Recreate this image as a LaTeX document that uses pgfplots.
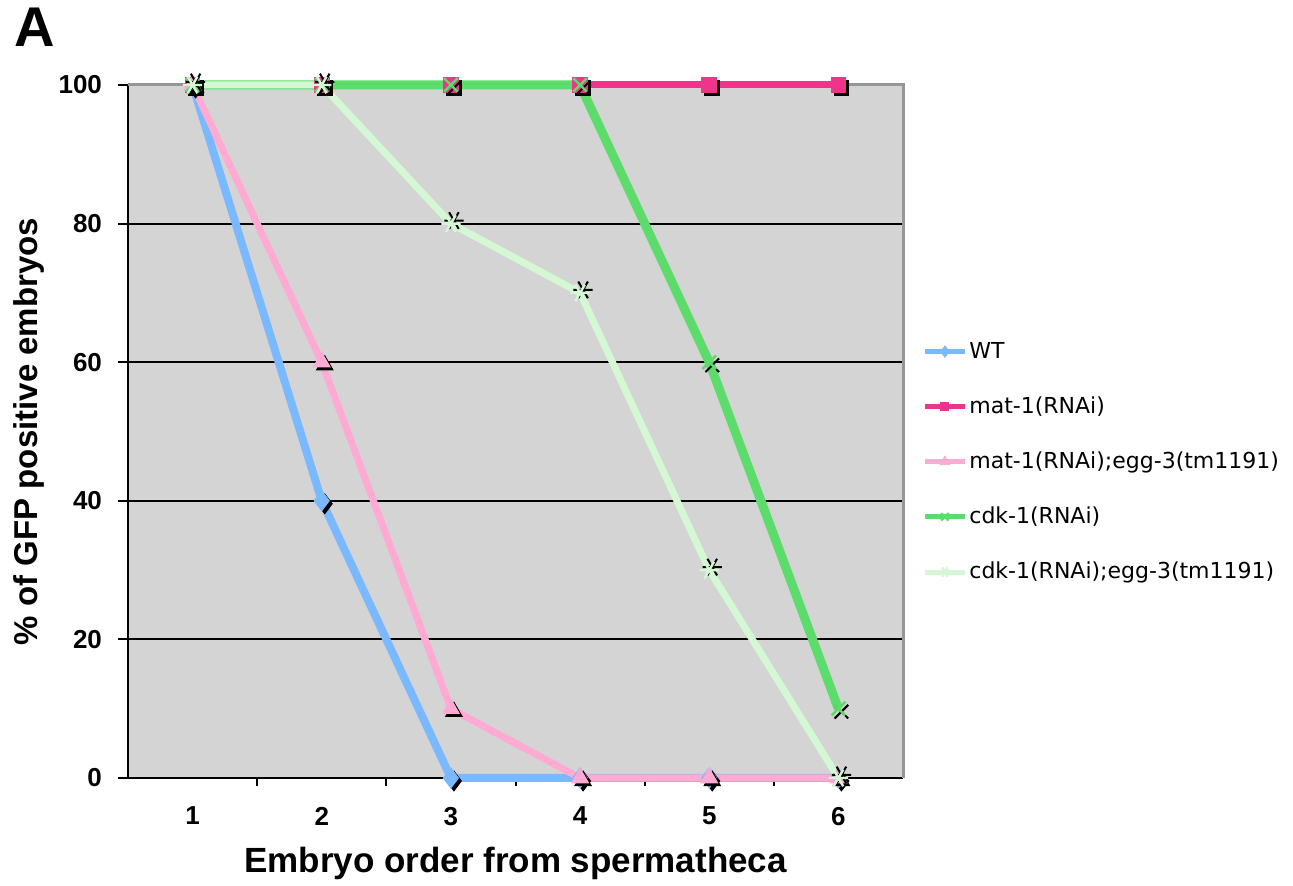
\documentclass[border=0pt]{standalone}
\usepackage{fontspec}
\setmainfont{Liberation Sans}
\newfontfamily\legfont{DejaVu Sans}
\usepackage{pgfplots}
\pgfplotsset{compat=1.18}
\definecolor{cWT}{RGB}{122,184,255}
\definecolor{cMat}{RGB}{238,52,140}
\definecolor{cMatEgg}{RGB}{255,170,210}
\definecolor{cCdk}{RGB}{92,220,106}
\definecolor{cCdkEgg}{RGB}{212,248,212}
\definecolor{bggray}{RGB}{212,212,212}
\definecolor{framegray}{RGB}{150,150,150}
\begin{document}
\begin{tikzpicture}
\useasboundingbox (0,0) rectangle (646.5pt,443pt);
\node[anchor=base west, inner sep=0pt, font=\fontsize{28}{30}\selectfont\bfseries] at (7pt,419.5pt) {A};
\begin{axis}[
  at={(64pt,54pt)}, anchor=south west,
  width=387.5pt, height=346.5pt, scale only axis,
  xmin=0.5, xmax=6.5, ymin=0, ymax=100,
  clip=false,
  axis background/.style={fill=bggray},
  axis x line*=bottom, axis y line*=left,
  axis line style={line width=1pt, black, -},
  xtick={1,2,3,4,5,6},
  minor xtick={1.5,2.5,3.5,4.5,5.5},
  major x tick style={draw=none},
  ytick={0,20,40,60,80,100},
  tick align=outside, major tick length=5pt, minor tick length=4pt,
  tick style={black, line width=1pt},
  ymajorgrids, major grid style={black, line width=1pt},
  /pgf/number format/assume math mode=true,
  tick label style={font=\fontsize{13}{15}\selectfont\bfseries},
  yticklabel style={xshift=-4.5pt},
  xticklabel style={yshift=-6pt},
  xlabel style={font=\fontsize{17.5}{20}\selectfont\bfseries, yshift=-4pt},
  ylabel style={font=\fontsize{16.5}{19}\selectfont\bfseries, yshift=0pt},
  xlabel={Embryo order from spermatheca},
  ylabel={\% of GFP positive embryos},
  legend style={draw=none, fill=none, at={(1.0245,0.456)}, anchor=west,
    font=\legfont\fontsize{11}{13}\selectfont, row sep=17.75pt, column sep=0pt,
    inner sep=0pt, nodes={inner xsep=1pt, inner ysep=0pt}},
  legend cell align=left,
  legend image code/.code={
    \draw[mark repeat=2, mark phase=2, #1, line width=2.5pt, every mark/.append style={scale=0.55}]
      plot coordinates {(0pt,0pt) (10pt,0pt) (20pt,0pt)};
  },
]
\draw[framegray, line width=1.5pt] (rel axis cs:0,1) -- (rel axis cs:1,1) -- (rel axis cs:1,0);

% WT
\addplot[forget plot, only marks, black, mark=diamond*, mark size=5pt,
  mark options={xshift=1.5pt, yshift=-1.5pt}] coordinates {(1,100) (2,40) (3,0) (4,0) (5,0) (6,0)};
\addplot[cWT, line width=4pt, mark=diamond*, mark size=5pt,
  mark options={solid, line width=0.5pt, fill=cWT, draw=cWT}]
  coordinates {(1,100) (2,40) (3,0) (4,0) (5,0) (6,0)};
\addlegendentry{WT}

% mat-1(RNAi)
\addplot[forget plot, only marks, black, mark=square*, mark size=3.7pt,
  mark options={xshift=1.5pt, yshift=-1.5pt}] coordinates {(1,100) (2,100) (3,100) (4,100) (5,100) (6,100)};
\addplot[cMat, line width=3.5pt, mark=square*, mark size=3.7pt,
  mark options={solid, line width=0.5pt, fill=cMat, draw=cMat}]
  coordinates {(1,100) (2,100) (3,100) (4,100) (5,100) (6,100)};
\addlegendentry{mat-1(RNAi)}

% mat-1(RNAi);egg-3(tm1191)
\addplot[forget plot, only marks, black, mark=triangle*, mark size=4.8pt,
  mark options={xshift=1.5pt, yshift=-1.5pt}] coordinates {(1,100) (2,60) (3,10) (4,0) (5,0) (6,0)};
\addplot[cMatEgg, line width=3.5pt, mark=triangle*, mark size=4.8pt,
  mark options={solid, line width=0.5pt, fill=cMatEgg, draw=cMatEgg}]
  coordinates {(1,100) (2,60) (3,10) (4,0) (5,0) (6,0)};
\addlegendentry{mat-1(RNAi);egg-3(tm1191)}

% cdk-1(RNAi)
\addplot[forget plot, only marks, black, mark=x, mark size=4.8pt,
  mark options={line width=1pt, xshift=1.5pt, yshift=-1.5pt}] coordinates {(1,100) (2,100) (3,100) (4,100) (5,60) (6,10)};
\addplot[cCdk, line width=4.5pt, mark=x, mark size=4.8pt,
  mark options={solid, line width=1.2pt, draw=cCdk}]
  coordinates {(1,100) (2,100) (3,100) (4,100) (5,60) (6,10)};
\addlegendentry{cdk-1(RNAi)}

% cdk-1(RNAi);egg-3(tm1191)
\addplot[forget plot, only marks, black, mark=asterisk, mark size=4.8pt,
  mark options={line width=1pt, rotate=90, xshift=1.5pt, yshift=-1.5pt}] coordinates {(1,100) (2,100) (3,80) (4,70) (5,30) (6,0)};
\addplot[cCdkEgg, line width=3.5pt, mark=asterisk, mark size=4.8pt,
  mark options={solid, line width=1.2pt, rotate=90, draw=cCdkEgg}]
  coordinates {(1,100) (2,100) (3,80) (4,70) (5,30) (6,0)};
\addlegendentry{cdk-1(RNAi);egg-3(tm1191)}
\end{axis}
\end{tikzpicture}
\end{document}
